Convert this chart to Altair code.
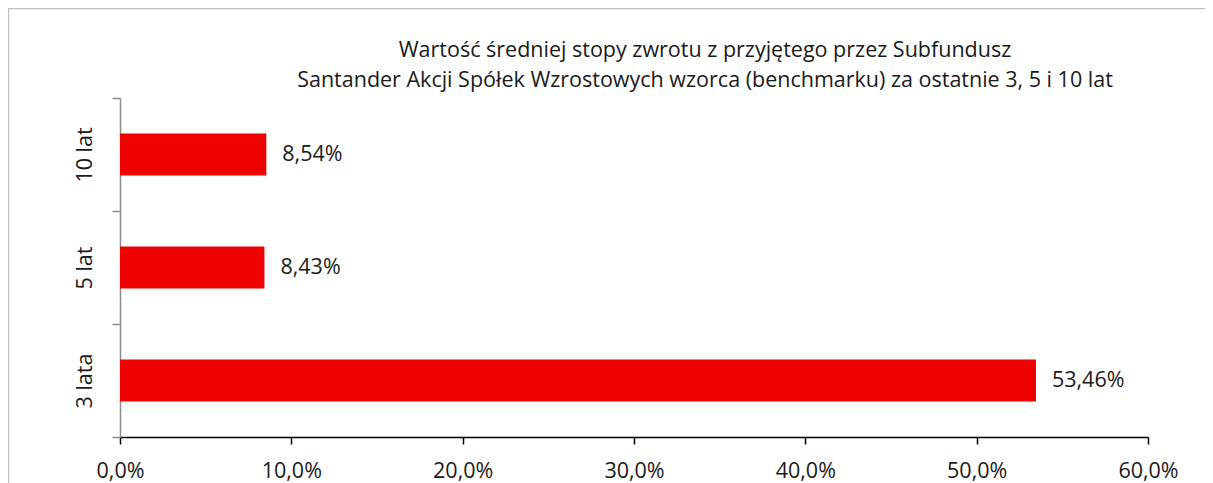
import altair as alt
import pandas as pd

categories = ["10 lat", "5 lat", "3 lata"]
values = [8.54, 8.43, 53.46]
x_ticks = [0, 10, 20, 30, 40, 50, 60]
title_lines = [
    "Wartość średniej stopy zwrotu z przyjętego przez Subfundusz",
    "Santander Akcji Spółek Wzrostowych wzorca (benchmarku) za ostatnie 3, 5 i 10 lat",
]

df = pd.DataFrame({"okres": categories, "wartosc": values})
one = pd.DataFrame({"k": [0]})

FONT = "Open Sans"
FS = 21.5
TXT = "#1a1a1a"
RED = "#EC0000"
W, H = 1028, 339
PAD_L, PAD_T, PAD_R, PAD_B = 112, 90, 57, 46

x_enc = alt.X(
    "wartosc:Q",
    scale=alt.Scale(domain=[0, 60], nice=False),
    axis=alt.Axis(
        values=x_ticks,
        labelExpr="replace(format(datum.value, '.1f'), '.', ',') + '%'",
        title=None,
        grid=False,
        labelFlush=False,
        labelOverlap=False,
        domainColor="#000000",
        domainWidth=1.5,
        tickColor="#000000",
        tickWidth=1.5,
        tickSize=7,
        labelFont=FONT,
        labelFontSize=FS,
        labelColor=TXT,
        labelPadding=16,
    ),
)
y_enc = alt.Y(
    "okres:N",
    sort=categories,
    scale=alt.Scale(paddingInner=0, paddingOuter=0),
    axis=alt.Axis(
        title=None,
        grid=False,
        tickBand="extent",
        domainColor="#8c8c8c",
        domainWidth=1.5,
        tickColor="#8c8c8c",
        tickWidth=1.5,
        tickSize=8,
        labelAngle=270,
        labelAlign="center",
        labelBaseline="bottom",
        labelFont=FONT,
        labelFontSize=FS,
        labelColor=TXT,
        labelPadding=16,
    ),
)

base = alt.Chart(df).transform_calculate(
    label="replace(format(datum.wartosc, '.2f'), '.', ',') + '%'"
)

bars = base.mark_bar(color=RED, height=42).encode(x=x_enc, y=y_enc)

labels = base.mark_text(
    align="left", baseline="middle", dx=16, font=FONT, fontSize=FS, color=TXT
).encode(x=alt.X("wartosc:Q"), y=alt.Y("okres:N", sort=categories), text="label:N")

title1 = alt.Chart(one).mark_text(
    align="center", baseline="alphabetic", font=FONT, fontSize=FS, color=TXT
).encode(text=alt.value(title_lines[0]), x=alt.value(585), y=alt.value(-41))
title2 = alt.Chart(one).mark_text(
    align="center", baseline="alphabetic", font=FONT, fontSize=FS, color=TXT
).encode(text=alt.value(title_lines[1]), x=alt.value(585), y=alt.value(-11))

frame_top = alt.Chart(one).mark_rule(color="#bfbfbf", strokeWidth=1.5).encode(
    x=alt.value(-PAD_L), x2=alt.value(W + PAD_R), y=alt.value(-PAD_T + 0.5)
)
frame_left = alt.Chart(one).mark_rule(color="#bfbfbf", strokeWidth=1.5).encode(
    x=alt.value(-PAD_L + 0.5), y=alt.value(-PAD_T), y2=alt.value(H + PAD_B)
)

chart = (
    alt.layer(frame_top, frame_left, title1, title2, bars, labels)
    .properties(
        width=W,
        height=H,
        autosize=alt.AutoSizeParams(type="none"),
        padding={"left": PAD_L, "top": PAD_T, "right": PAD_R, "bottom": PAD_B},
    )
    .configure(background="white")
    .configure_view(strokeWidth=0, stroke="transparent")
)

chart.save("out.html", embed_options={"renderer": "svg", "actions": False})
